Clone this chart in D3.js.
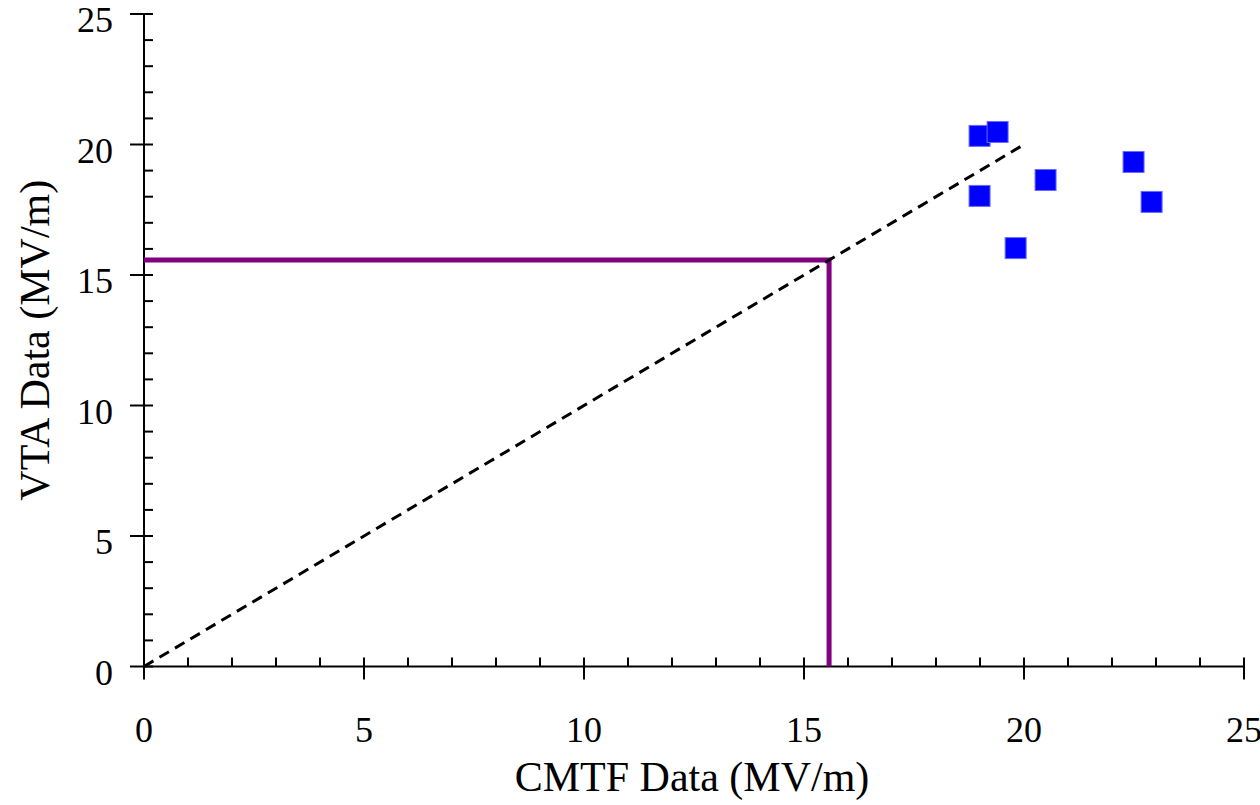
<!DOCTYPE html>
<html>
<head>
<meta charset="utf-8">
<script src="https://cdn.jsdelivr.net/npm/d3@7"></script>
<style>
  html, body { margin: 0; padding: 0; background: #fff; }
  svg { display: block; }
  text { font-family: "Liberation Serif", "Times New Roman", serif; fill: #000; }
</style>
</head>
<body>
<svg id="chart" width="1260" height="805"></svg>
<script>
// Measured field strengths (MV/m)
const cmtf = [18.99, 19.40, 18.99, 20.49, 19.81, 22.49, 22.90];
const vta  = [20.33, 20.48, 18.03, 18.64, 16.03, 19.33, 17.80];

// 1:1 reference line
const refX = [0, 20];
const refY = [0, 20];

// Crossover level marked on both axes
const crossover = [15.57];

const xTicks = [0, 5, 10, 15, 20, 25];
const yTicks = [0, 5, 10, 15, 20, 25];
const xTitle = "CMTF Data (MV/m)";
const yTitle = "VTA Data (MV/m)";

const svg = d3.select("#chart");
const x = d3.scaleLinear().domain([0, 25]).range([144, 1244]);
const y = d3.scaleLinear().domain([0, 25]).range([666.5, 14]);

// Minor ticks (inward only)
const minor = d3.range(0, 25.01, 1).filter(v => v % 5 !== 0);
const ax = svg.append("g");
ax.selectAll("line.xmin").data(minor).join("line")
  .attr("x1", d => x(d)).attr("x2", d => x(d))
  .attr("y1", y(0)).attr("y2", y(0) - 9)
  .attr("stroke", "#000").attr("stroke-width", 2);
ax.selectAll("line.ymin").data(minor).join("line")
  .attr("y1", d => y(d)).attr("y2", d => y(d))
  .attr("x1", x(0)).attr("x2", x(0) + 9)
  .attr("stroke", "#000").attr("stroke-width", 2);

// Major ticks (cross the axis)
ax.selectAll("line.xmaj").data(xTicks).join("line")
  .attr("x1", d => x(d)).attr("x2", d => x(d))
  .attr("y1", y(0) - 9).attr("y2", y(0) + 13)
  .attr("stroke", "#000").attr("stroke-width", 2);
ax.selectAll("line.ymaj").data(yTicks).join("line")
  .attr("y1", d => y(d)).attr("y2", d => y(d))
  .attr("x1", x(0) - 14).attr("x2", x(0) + 9)
  .attr("stroke", "#000").attr("stroke-width", 2);

// Axis lines
ax.append("line").attr("x1", x(0)).attr("x2", x(25)).attr("y1", y(0)).attr("y2", y(0))
  .attr("stroke", "#000").attr("stroke-width", 2);
ax.append("line").attr("x1", x(0)).attr("x2", x(0)).attr("y1", y(0)).attr("y2", y(25))
  .attr("stroke", "#000").attr("stroke-width", 2);

// Tick labels
ax.selectAll("text.xl").data(xTicks).join("text")
  .attr("x", d => x(d)).attr("y", 742)
  .attr("text-anchor", "middle").attr("font-size", 36)
  .text(d => d);
ax.selectAll("text.yl").data(yTicks).join("text")
  .attr("x", 113).attr("y", d => y(d) + 18)
  .attr("text-anchor", "end").attr("font-size", 36)
  .text(d => d);

// Axis titles
svg.append("text").attr("x", 692).attr("y", 791)
  .attr("text-anchor", "middle").attr("font-size", 42).text(xTitle);
svg.append("text").attr("transform", `translate(49, ${y(12.5)}) rotate(-90)`)
  .attr("text-anchor", "middle").attr("font-size", 42).text(yTitle);

// Crossover guide lines
const c = crossover[0];
svg.append("path")
  .attr("d", d3.line()([[x(0), y(c)], [x(c), y(c)], [x(c), y(0)]]))
  .attr("fill", "none").attr("stroke", "#800080").attr("stroke-width", 5)
  .attr("stroke-linejoin", "miter");

// Reference line
svg.append("path")
  .datum(refX.map((v, i) => [v, refY[i]]))
  .attr("d", d3.line().x(d => x(d[0])).y(d => y(d[1])))
  .attr("fill", "none").attr("stroke", "#000").attr("stroke-width", 3)
  .attr("stroke-dasharray", "11,7");

// Data points
const pts = cmtf.map((v, i) => ({ x: v, y: vta[i] }));
const s = 21;
svg.selectAll("rect.pt").data(pts).join("rect")
  .attr("x", d => x(d.x) - s / 2).attr("y", d => y(d.y) - s / 2)
  .attr("width", s).attr("height", s)
  .attr("fill", "#0000ff").attr("stroke", "#6b6bff").attr("stroke-width", 1);
</script>
</body>
</html>
